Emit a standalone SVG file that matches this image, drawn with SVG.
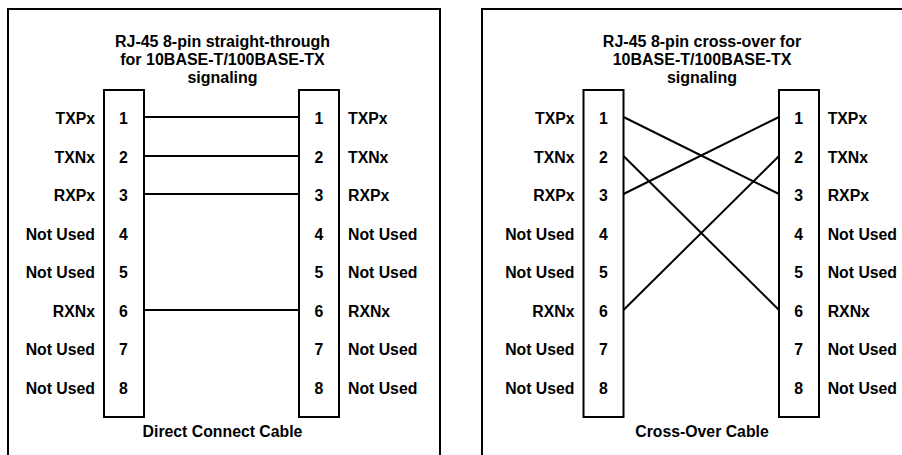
<svg xmlns="http://www.w3.org/2000/svg" width="902" height="455" viewBox="0 0 902 455">
<style>
.frame{fill:none;stroke:#000;stroke-width:2}
.box{fill:#fff;stroke:#000;stroke-width:2}
.wire{stroke:#000;stroke-width:2;fill:none}
text{font-family:"Liberation Sans",Arial,sans-serif;font-weight:bold;font-size:15.8px;fill:#000}
.t{font-size:16px;text-anchor:middle}
.c{text-anchor:middle}
.r{text-anchor:end}
</style>
<rect width="902" height="455" fill="#fff"/>
<g id="panel-straight">
<rect class="frame" x="8" y="9" width="432" height="460"/>
<text class="t" x="222.5" y="47">RJ-45 8-pin straight-through</text>
<text class="t" x="222.5" y="65">for 10BASE-T/100BASE-TX</text>
<text class="t" x="222.5" y="82.5">signaling</text>
<text class="c" x="222.5" y="437">Direct Connect Cable</text>
</g>
<g id="panel-cross">
<rect class="frame" x="482" y="9" width="432" height="460"/>
<text class="t" x="702" y="47">RJ-45 8-pin cross-over for</text>
<text class="t" x="702" y="65">10BASE-T/100BASE-TX</text>
<text class="t" x="702" y="82.5">signaling</text>
<text class="c" x="702" y="437">Cross-Over Cable</text>
</g>
<g id="connectors">
<line class="wire" x1="144" y1="117" x2="299" y2="117"/>
<line class="wire" x1="144" y1="156" x2="299" y2="156"/>
<line class="wire" x1="144" y1="194" x2="299" y2="194"/>
<line class="wire" x1="144" y1="310" x2="299" y2="310"/>
<line class="wire" x1="623.5" y1="117" x2="779" y2="194"/>
<line class="wire" x1="623.5" y1="156" x2="779" y2="310"/>
<line class="wire" x1="623.5" y1="194" x2="779" y2="117"/>
<line class="wire" x1="623.5" y1="310" x2="779" y2="156"/>
</g>
<g id="jack-straight-left">
<rect class="box" x="104" y="90" width="40" height="327"/>
<text class="c" x="123.5" y="124">1</text>
<text class="c" x="123.5" y="162.5">2</text>
<text class="c" x="123.5" y="201">3</text>
<text class="c" x="123.5" y="239.5">4</text>
<text class="c" x="123.5" y="278">5</text>
<text class="c" x="123.5" y="316.5">6</text>
<text class="c" x="123.5" y="355">7</text>
<text class="c" x="123.5" y="393.5">8</text>
<text class="r" x="95" y="124">TXPx</text>
<text class="r" x="95" y="162.5">TXNx</text>
<text class="r" x="95" y="201">RXPx</text>
<text class="r" x="95" y="239.5">Not Used</text>
<text class="r" x="95" y="278">Not Used</text>
<text class="r" x="95" y="316.5">RXNx</text>
<text class="r" x="95" y="355">Not Used</text>
<text class="r" x="95" y="393.5">Not Used</text>
</g>
<g id="jack-straight-right">
<rect class="box" x="299" y="90" width="40" height="327"/>
<text class="c" x="319" y="124">1</text>
<text class="c" x="319" y="162.5">2</text>
<text class="c" x="319" y="201">3</text>
<text class="c" x="319" y="239.5">4</text>
<text class="c" x="319" y="278">5</text>
<text class="c" x="319" y="316.5">6</text>
<text class="c" x="319" y="355">7</text>
<text class="c" x="319" y="393.5">8</text>
<text x="348" y="124">TXPx</text>
<text x="348" y="162.5">TXNx</text>
<text x="348" y="201">RXPx</text>
<text x="348" y="239.5">Not Used</text>
<text x="348" y="278">Not Used</text>
<text x="348" y="316.5">RXNx</text>
<text x="348" y="355">Not Used</text>
<text x="348" y="393.5">Not Used</text>
</g>
<g id="jack-cross-left">
<rect class="box" x="583.5" y="90" width="40" height="327"/>
<text class="c" x="603.3" y="124">1</text>
<text class="c" x="603.3" y="162.5">2</text>
<text class="c" x="603.3" y="201">3</text>
<text class="c" x="603.3" y="239.5">4</text>
<text class="c" x="603.3" y="278">5</text>
<text class="c" x="603.3" y="316.5">6</text>
<text class="c" x="603.3" y="355">7</text>
<text class="c" x="603.3" y="393.5">8</text>
<text class="r" x="574.5" y="124">TXPx</text>
<text class="r" x="574.5" y="162.5">TXNx</text>
<text class="r" x="574.5" y="201">RXPx</text>
<text class="r" x="574.5" y="239.5">Not Used</text>
<text class="r" x="574.5" y="278">Not Used</text>
<text class="r" x="574.5" y="316.5">RXNx</text>
<text class="r" x="574.5" y="355">Not Used</text>
<text class="r" x="574.5" y="393.5">Not Used</text>
</g>
<g id="jack-cross-right">
<rect class="box" x="779" y="90" width="40" height="327"/>
<text class="c" x="798.7" y="124">1</text>
<text class="c" x="798.7" y="162.5">2</text>
<text class="c" x="798.7" y="201">3</text>
<text class="c" x="798.7" y="239.5">4</text>
<text class="c" x="798.7" y="278">5</text>
<text class="c" x="798.7" y="316.5">6</text>
<text class="c" x="798.7" y="355">7</text>
<text class="c" x="798.7" y="393.5">8</text>
<text x="827.7" y="124">TXPx</text>
<text x="827.7" y="162.5">TXNx</text>
<text x="827.7" y="201">RXPx</text>
<text x="827.7" y="239.5">Not Used</text>
<text x="827.7" y="278">Not Used</text>
<text x="827.7" y="316.5">RXNx</text>
<text x="827.7" y="355">Not Used</text>
<text x="827.7" y="393.5">Not Used</text>
</g>
</svg>
